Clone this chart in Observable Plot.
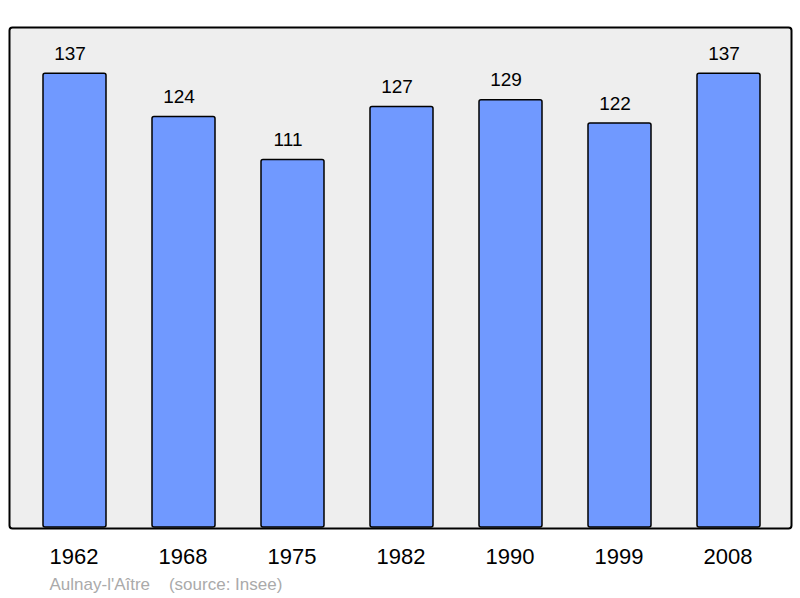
<!DOCTYPE html>
<html>
<head>
<meta charset="utf-8">
<script src="https://cdn.jsdelivr.net/npm/d3@7"></script>
<script src="https://cdn.jsdelivr.net/npm/@observablehq/plot@0.6"></script>
<style>
  body { margin: 0; background: #ffffff; }
  #chart svg { display: block; }
</style>
</head>
<body>
<div id="chart"></div>
<script>
const years = ["1962", "1968", "1975", "1982", "1990", "1999", "2008"];
const population = [137, 124, 111, 127, 129, 122, 137];
const caption = "Aulnay-l'Aître\u00a0\u00a0\u00a0\u00a0(source: Insee)";

const data = years.map((year, i) => ({ year, value: population[i] }));

const chart = Plot.plot({
  width: 800,
  height: 598,
  marginTop: 27,
  marginBottom: 70,
  marginLeft: 9,
  marginRight: 9,
  style: { fontFamily: "'Liberation Sans', Arial, sans-serif", background: "#ffffff" },
  x: { domain: years, paddingInner: 0.425, paddingOuter: 0.285, insetLeft: 1.65, insetRight: -1.65, axis: null },
  y: { domain: [0, 151], insetBottom: 1, axis: null },
  marks: [
    Plot.frame({ fill: "#eeeeee", stroke: "#000000", strokeWidth: 2, rx: 3 }),
    Plot.barY(data, { x: "year", y: "value", fill: "#7099ff", stroke: "#000000", strokeWidth: 1.5, rx: 2 }),
    Plot.text(data, { x: "year", y: "value", text: d => String(d.value), lineAnchor: "bottom", dx: -5, dy: -14, fontSize: 19, fill: "#000000" }),
    Plot.text(data, { x: "year", text: "year", frameAnchor: "bottom", lineAnchor: "bottom", dx: -1, dy: 35.5, fontSize: 22, fill: "#000000" }),
    Plot.text([caption], { text: d => d, frameAnchor: "bottom-left", textAnchor: "start", lineAnchor: "bottom", dx: 40, dy: 61, fontSize: 17, fill: "#aaaaaa" })
  ]
});
document.getElementById("chart").appendChild(chart);
</script>
</body>
</html>
